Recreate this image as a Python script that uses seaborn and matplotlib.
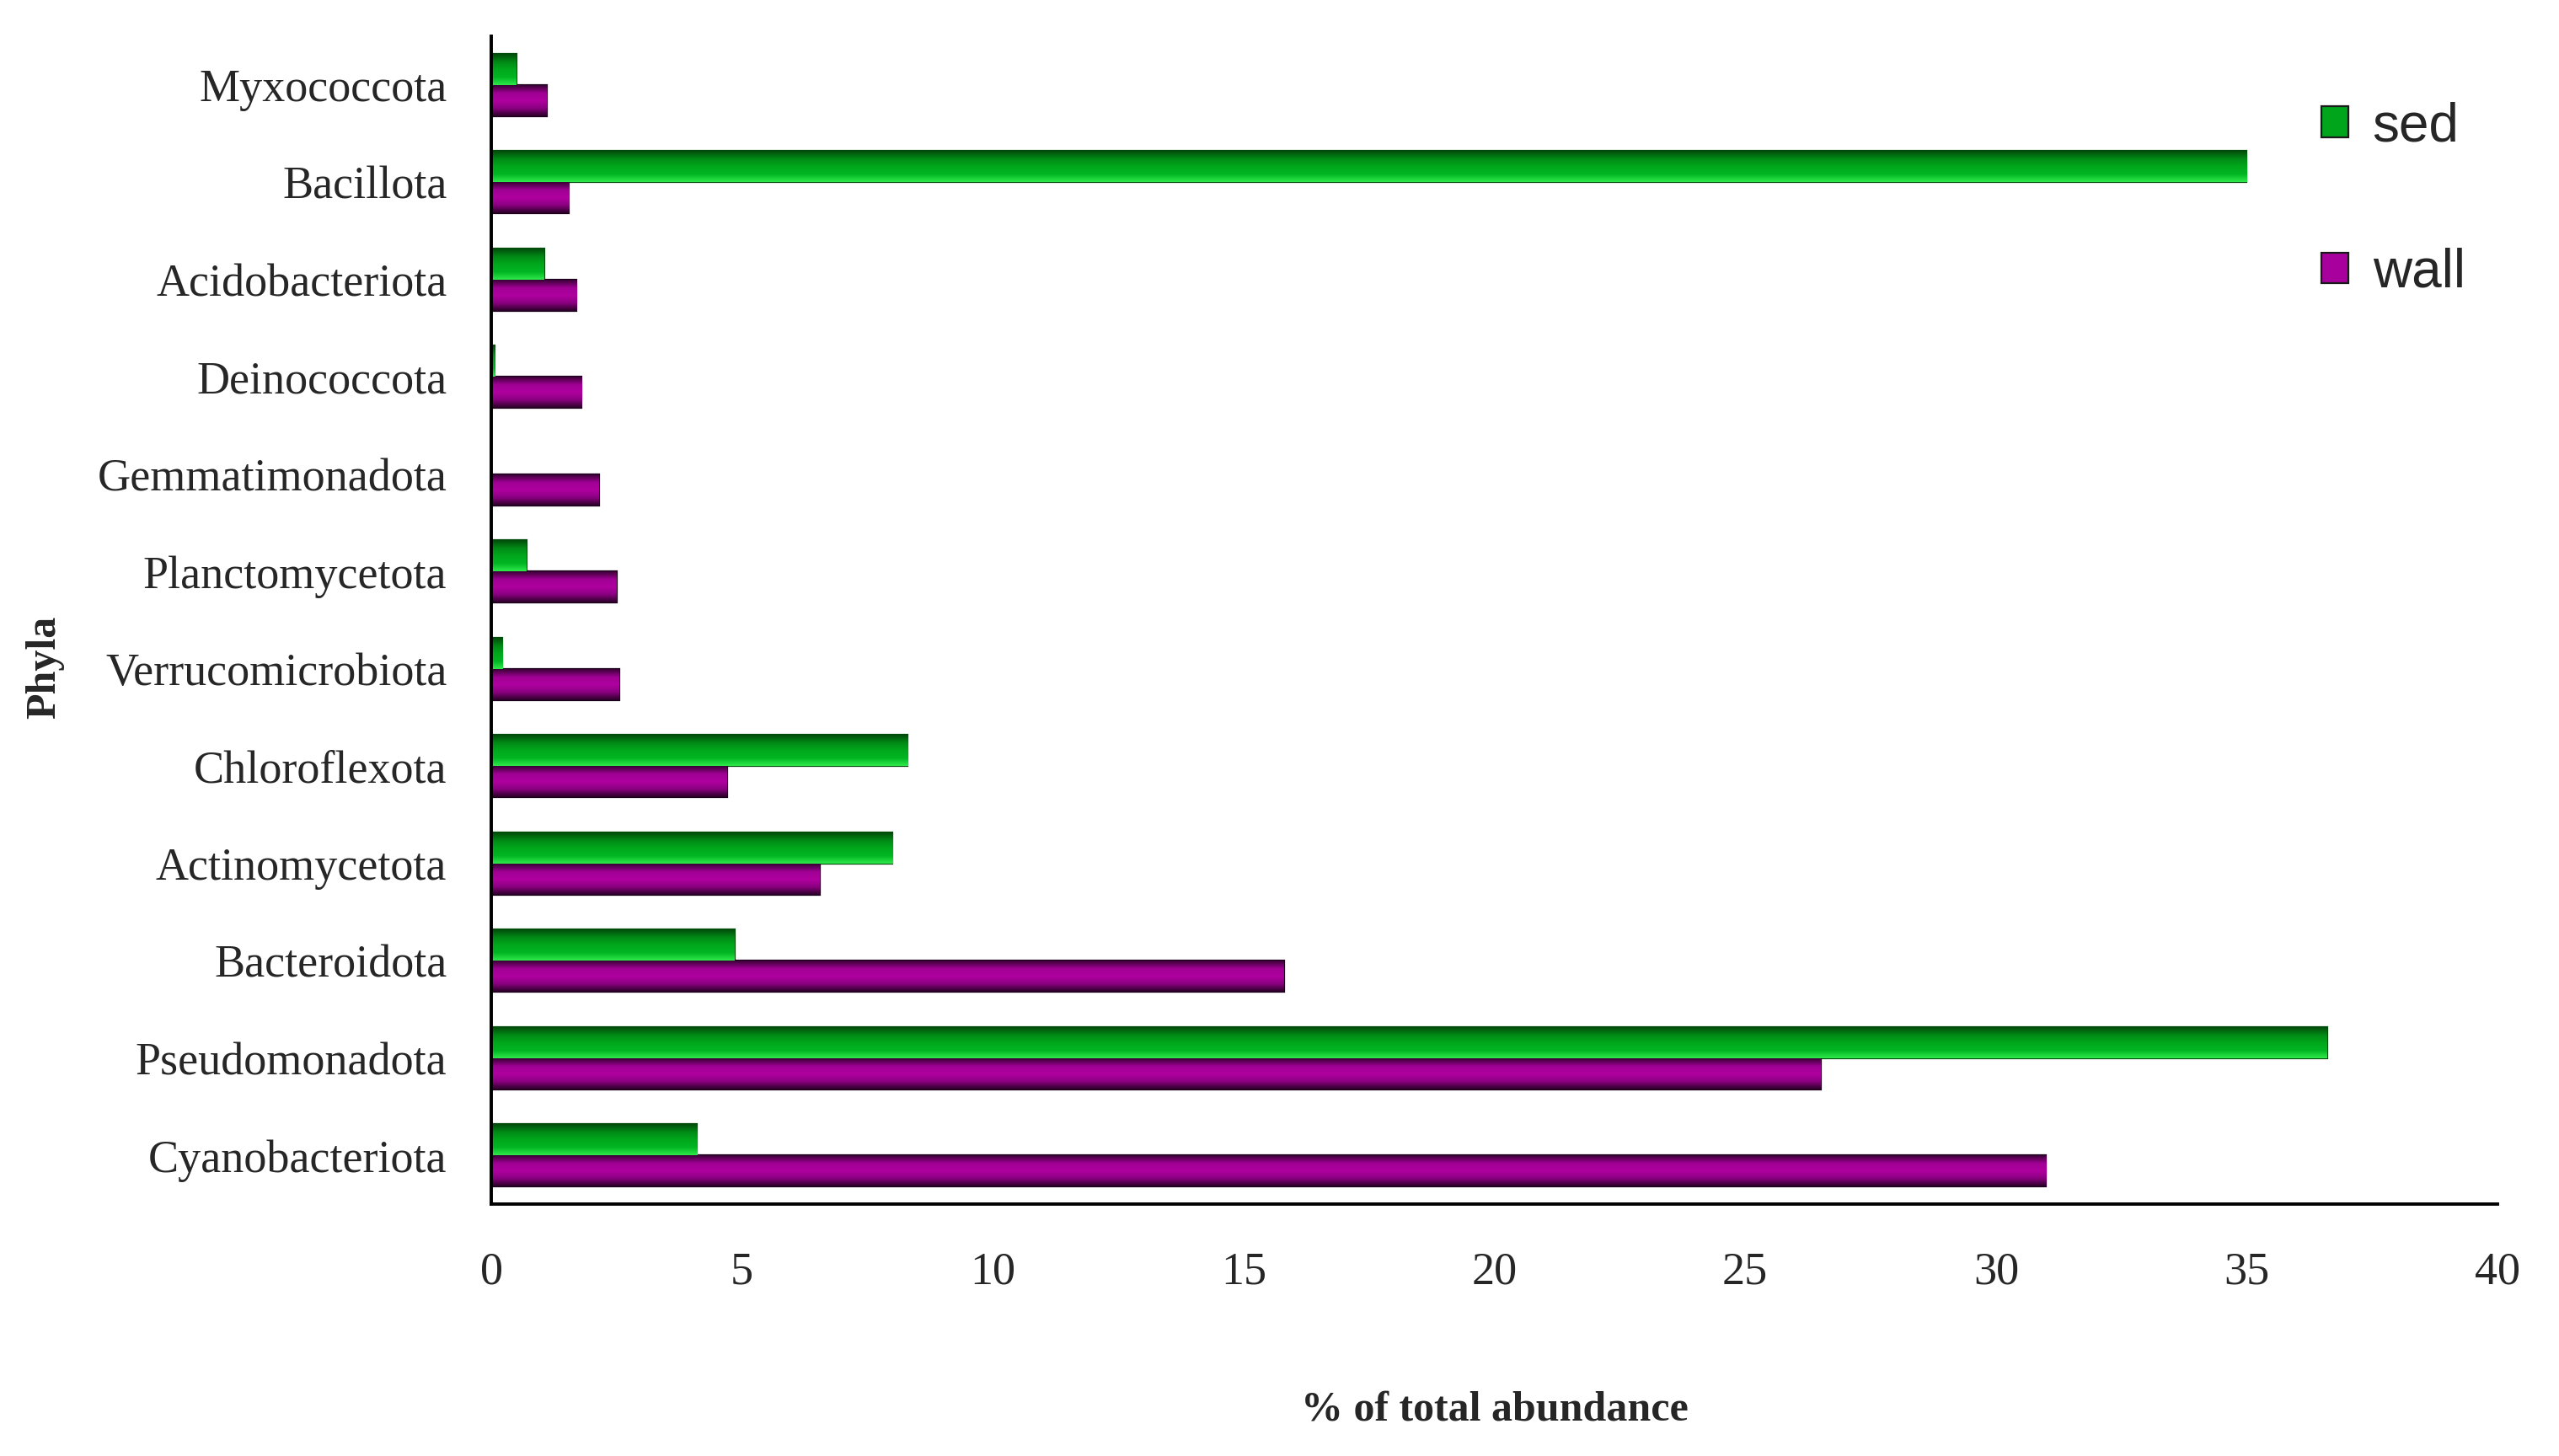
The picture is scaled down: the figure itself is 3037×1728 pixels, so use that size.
import numpy as np
import pandas as pd
import seaborn as sns
import matplotlib.pyplot as plt
from matplotlib.colors import LinearSegmentedColormap, to_hex

# phyla from top to bottom as drawn
phyla = ['Myxococcota', 'Bacillota', 'Acidobacteriota', 'Deinococcota',
         'Gemmatimonadota', 'Planctomycetota', 'Verrucomicrobiota',
         'Chloroflexota', 'Actinomycetota', 'Bacteroidota',
         'Pseudomonadota', 'Cyanobacteriota']
sed = [0.5, 35.0, 1.05, 0.07, 0.0, 0.7, 0.22, 8.3, 8.0, 4.85, 36.6, 4.1]
wall = [1.1, 1.55, 1.7, 1.8, 2.15, 2.5, 2.55, 4.7, 6.55, 15.8, 26.5, 31.0]

df = pd.DataFrame({'phylum': phyla * 2,
                   'value': sed + wall,
                   'site': ['sed'] * len(phyla) + ['wall'] * len(phyla)})

sns.set_theme(style='white')
plt.rcParams['font.family'] = ['Liberation Serif', 'DejaVu Serif']

fig, ax = plt.subplots(figsize=(15.185, 8.64), dpi=200)
fig.subplots_adjust(left=0.192, right=0.976, top=0.975, bottom=0.173)

colors = {'sed': '#00a51c', 'wall': '#a8009c'}
sns.barplot(data=df, x='value', y='phylum', hue='site', order=phyla,
            hue_order=['sed', 'wall'], palette=colors, width=0.64,
            saturation=1, orient='h', ax=ax, legend=True)

# shaded look of the bars (first colour = bottom of the bar)
grad = {
    '#00a51c': LinearSegmentedColormap.from_list('g', ['#2ee84a', '#00b522', '#00a81c', '#008a16', '#004d0a']),
    '#a8009c': LinearSegmentedColormap.from_list('p', ['#2a0028', '#8a0080', '#b0009f', '#a00094', '#3a0036']),
}
edges = {'#00a51c': '#004a0a', '#a8009c': '#1a0018'}
shade = np.linspace(0, 1, 64).reshape(-1, 1)
for bar in ax.patches:
    w = bar.get_width()
    if w <= 0 or np.isnan(w):
        continue
    fc = to_hex(bar.get_facecolor())
    if fc not in grad:
        continue
    bb = bar.get_bbox()
    im = ax.imshow(shade, cmap=grad[fc], aspect='auto', zorder=bar.get_zorder() + 0.1,
                   extent=[bb.x0, bb.x1, bb.y1, bb.y0], origin='lower',
                   interpolation='bilinear')
    im.set_clip_path(bar)
    bar.set_edgecolor(edges[fc])
    bar.set_linewidth(0.8)

ax.set_xlim(0, 40)
ax.set_ylim(11.5, -0.5)
ax.set_aspect('auto')
ax.set_xticks(range(0, 41, 5))
ax.tick_params(axis='both', length=0, labelsize=19.5)
ax.tick_params(axis='x', pad=20)
ax.tick_params(axis='y', pad=19)
for lbl in ax.get_yticklabels():
    lbl.set_va('center_baseline')
for s in ['top', 'right']:
    ax.spines[s].set_visible(False)
for s in ['left', 'bottom']:
    ax.spines[s].set_color('black')
    ax.spines[s].set_linewidth(1.4)

ax.set_xlabel('% of total abundance', fontsize=18, fontweight='bold')
ax.xaxis.set_label_coords(0.5, -0.16)
ax.set_ylabel('Phyla', fontsize=18, fontweight='bold')
ax.yaxis.set_label_coords(-0.213, 0.46)

leg = ax.legend(loc='upper left', bbox_to_anchor=(0.888, 0.986), frameon=False,
                prop={'family': 'Liberation Sans', 'size': 23},
                handlelength=0.5, handleheight=0.5, handletextpad=0.45,
                labelspacing=1.78)
for h in leg.legend_handles:
    h.set_edgecolor('#1a1a1a')
    h.set_linewidth(0.8)

fig.savefig('out.png', dpi=200)
